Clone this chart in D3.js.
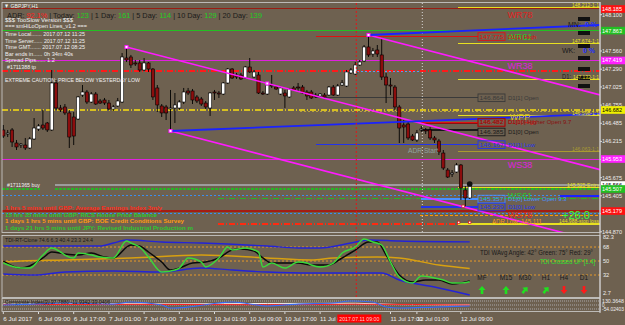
<!DOCTYPE html>
<html><head><meta charset="utf-8">
<script src="https://cdn.jsdelivr.net/npm/d3@7/dist/d3.min.js"></script>
<style>
html,body{margin:0;padding:0;background:#6e6150;overflow:hidden}
svg{display:block}
text{font-family:"Liberation Sans",Arial,sans-serif}
</style></head><body>
<svg id="chart" width="625" height="325"></svg>
<script>
// ================= DATA =================
const opens = [146.385,146.325,146.385,146.191,146.161,146.161,146.117,146.251,146.399,146.459,
146.489,146.385,147.084,146.712,146.727,146.638,146.578,146.548,146.905,146.950,
146.801,146.920,146.816,146.831,146.786,146.697,146.742,146.801,147.456,147.471,
147.382,147.382,147.277,147.382,147.292,147.010,146.742,146.727,146.697,146.712,
146.712,146.801,146.965,146.965,146.876,146.846,146.786,146.712,146.950,146.935,
146.920,147.084,147.292,147.203,147.203,147.158,147.322,147.173,147.203,146.935,
146.920,147.054,147.024,146.920,146.935,146.876,147.010,147.024,147.024,146.950,
146.950,146.905,146.891,146.905,146.905,147.024,146.905,147.054,147.039,147.233,
147.218,147.352,147.411,147.620,147.515,147.575,147.501,147.173,147.054,147.024,
146.727,146.459,146.474,146.295,146.236,146.385,146.385,146.385,146.266,146.221,
146.042,145.789,145.730,145.760,145.864,145.492,145.373];
const highs = [146.459,146.385,146.414,146.236,146.191,146.266,146.280,146.563,146.474,146.682,
146.504,147.277,147.129,146.757,146.771,146.682,146.653,146.891,147.054,146.980,
146.950,146.950,146.846,146.861,146.831,146.757,146.861,147.530,147.620,147.501,
147.426,147.426,147.456,147.396,147.307,147.054,146.771,146.757,146.980,146.935,
146.831,147.010,147.010,146.995,146.905,146.876,146.816,146.950,146.980,146.965,
147.099,147.307,147.307,147.233,147.233,147.337,147.456,147.277,147.248,146.965,
147.069,147.203,147.054,147.024,146.980,147.010,147.039,147.084,147.054,146.980,
146.980,146.935,146.935,146.935,147.039,147.054,147.069,147.129,147.277,147.307,
147.396,147.426,147.649,147.798,147.605,147.649,147.754,147.233,147.158,147.054,
146.757,146.533,146.504,146.325,146.385,146.444,146.414,146.429,146.295,146.251,
146.087,145.819,145.789,145.894,145.879,145.551,145.596];
const lows = [146.266,146.280,146.132,146.087,146.117,146.087,146.102,146.236,146.370,146.385,
146.355,146.370,146.682,146.653,146.608,146.117,146.161,146.533,146.876,146.771,
146.786,146.757,146.771,146.757,146.682,146.667,146.727,146.786,147.396,147.307,
147.337,147.248,147.262,147.248,146.831,146.653,146.578,146.533,146.370,146.489,
146.682,146.771,146.905,146.771,146.786,146.742,146.697,146.593,146.831,146.861,
146.905,147.069,147.144,147.144,147.129,147.144,147.233,147.158,146.920,146.905,
146.905,147.010,146.980,146.905,146.712,146.861,146.965,146.950,146.920,146.831,
146.846,146.861,146.861,146.846,146.891,146.891,146.891,147.039,147.024,147.218,
147.203,147.337,147.396,147.471,147.471,147.471,147.129,146.786,146.905,146.682,
146.191,146.191,146.236,146.221,146.206,146.355,146.325,146.236,146.191,146.013,
145.789,145.670,145.685,145.745,145.343,145.239,145.358];
const closes = [146.295,146.340,146.206,146.132,146.176,146.117,146.251,146.414,146.444,146.414,
146.385,147.084,146.712,146.682,146.638,146.280,146.295,146.876,146.950,146.801,
146.920,146.771,146.786,146.786,146.697,146.727,146.816,147.471,147.426,147.352,
147.367,147.277,147.382,147.292,146.876,146.757,146.638,146.638,146.712,146.757,
146.801,146.950,146.935,146.831,146.816,146.771,146.727,146.935,146.935,146.920,
147.084,147.292,147.158,147.173,147.144,147.322,147.248,147.248,146.935,146.920,
147.054,147.039,146.995,147.010,146.891,146.995,146.980,147.010,146.935,146.891,
146.861,146.876,146.920,146.876,147.024,146.905,147.039,147.084,147.248,147.277,
147.352,147.396,147.620,147.501,147.560,147.515,147.173,147.054,147.039,146.727,
146.414,146.429,146.266,146.236,146.340,146.399,146.370,146.266,146.236,146.057,
145.819,145.685,145.745,145.864,145.522,145.373,145.551];

const priceTicks = [148.100,147.830,147.560,147.290,147.025,146.755,146.485,146.215,145.945,145.675,145.405,145.140,144.870];
const timeLabels = ["6 Jul 2017","6 Jul 09:00","6 Jul 17:00","7 Jul 01:00","7 Jul 09:00","7 Jul 17:00","10 Jul 01:00","10 Jul 09:00","10 Jul 17:00","11 Jul 01:00","11 Jul 17:00","12 Jul 01:00","12 Jul 09:00"];
const timeLabelBars = [0,8,16,24,32,40,48,56,64,72,88,94,104];

// TDI
const tdiGreenBars = [0,4,6,9,11,13,14,16,17,20,22,25,28,29,31,33,36,39,40,42,45,46,49,51,52,55,58,59,61,64,67,69,70,72,75,77,80,82,84,86,88,90,93,95,98,100,102,104,106];
const tdiGreen = [47.4,41.0,41.0,57.7,66.7,61.6,57.7,53.9,60.3,57.7,55.1,53.9,75.7,73.1,68.0,55.1,35.9,38.4,41.0,53.9,48.7,42.3,53.9,68.0,64.1,66.7,61.6,42.3,47.4,41.0,48.7,47.4,44.9,42.3,47.4,60.3,68.0,78.3,74.4,70.6,48.7,29.4,21.7,30.7,28.2,25.6,21.7,21.7,23.3];
const tdiSignalBars = [0,4,6,9,11,14,17,20,23,25,29,31,33,36,38,40,43,46,49,52,54,57,59,61,64,67,70,74,77,80,83,85,87,90,93,96,99,102,104,106];
const tdiSignal = [50,41.0,43.6,53.9,61.6,59.0,57.7,60.3,55.1,53.9,70.6,69.3,61.6,48.7,38.4,41.0,47.4,48.7,53.9,64.1,65.4,62.9,53.9,47.4,47.4,47.4,44.9,44.9,53.9,64.1,74.4,74.4,57.7,32.0,23.0,25.6,25.6,20.4,21.7,24.4];
const tdiUpperBars = [0,22,25,28,36,45,51,60,67,72,79,83,90,106];
const tdiUpper = [69.3,69.3,73.1,77.0,74.4,73.1,71.8,69.3,66.7,66.7,73.1,77.0,75.7,74.6];
const tdiLowerBars = [0,7,14,25,36,45,52,60,70,86,90,98,106];
const tdiLower = [33.3,32.0,35.9,37.2,35.9,41.0,38.4,35.9,34.6,34.6,25.6,16.6,6.3];
const tdiMidBars = [0,4,14,29,45,60,70,75,85,90,99,106];
const tdiMid = [48.7,50,51.3,53.9,57.7,53.9,51.3,53.9,55.1,53.9,44.9,40.4];
const tdiLevels = [68,50,32];
const tdiAxisLabels = [82.3,68,50,32,2.7];

// Composite index
const compBars = [0,7,14,25,29,36,38,42,49,52,60,67,75,79,84,87,90,98,106];
const compBlue = [38,53,69,53,84,38,-8,7,69,84,23,53,69,100,84,7,-8,7,23];
const compWhiteBars = [0,20,40,60,80,90,106];
const compWhite = [55,60,55,62,65,45,40];
const compRedBars = [0,30,60,80,106];
const compRed = [45,48,42,50,38];

// Horizontal levels (prices)
const fullLevels = [148.185,147.863,147.419,147.262,146.682,145.953,145.566,145.507,145.417,145.179,145.135];
const d1PrevLevels = [147.775,146.864,146.167];
const d1PrevLabels = ["D1[1] High","D1[1] Open","D1[1] Low"];
const d1CurLevels = [146.497,146.482,146.385,145.357,145.239];
const d1CurLabels = ["D1[0] High","D1[10] Higher Open 9.7","D1[0] Open","D1[0] Lower Open 9.3","D1[0] Low"];
const rrLevels = [148.212,147.674,147.132,146.598,146.063,145.525,144.988];
const rrLabels = ["148.212-1:1","147.674-1:1","147.132-1:1","146.598-1:1","146.063-1:1","145.525-Entry","144.988-stop loss"];
const pivotNames = ["WR78","WR61","WR38","WPP","WS38","WS61","WS78"];
const pivotPrices = [148.09,147.765,147.33,146.58,145.86,145.41,145.115];
const adrLow = 145.111;
const tpLevel = 145.365;
const slLevel = 144.986;
// trend lines: anchor points [bar, price]
const trendMagUpper = [[28,147.620],[60,147.077]];
const trendMagNew = [[83,147.798],[100,147.510]];
const trendMagLower = [[38,146.370],[60,145.997]];
const trendBlueUpper = [[83,147.798],[135.6,147.947]];
const trendBlueLower = [[38,146.370],[135.6,146.623]];
const axisBoxes = [["148.185",148.185],["147.863",147.863],["147.419",147.419],["146.682",146.682],["145.953",145.953],["145.566",145.566],["145.507",145.507],["145.179",145.179]];

// ================= DRAW =================
const svg = d3.select("#chart");
const BG = "#6e6150";
const xB = d3.scaleLinear().domain([0,106]).range([3.3,469.7]);
const yP = d3.scaleLinear().domain([144.870,148.100]).range([231.8,14.7]);
const yT = d3.scaleLinear().domain([2.7,82.3]).range([297.8,235.9]);
const yC = d3.scaleLinear().domain([-54.02,130.36]).range([311,299]);
const XR = 600, XL = 2;
const barAtPx = px => xB.invert(px);

svg.append("rect").attr("width",625).attr("height",325).attr("fill",BG);
const defs = svg.append("defs");
defs.append("clipPath").attr("id","cm").append("rect").attr("x",XL).attr("y",3).attr("width",XR-XL).attr("height",229.5);
defs.append("clipPath").attr("id","ct").append("rect").attr("x",XL).attr("y",235.5).attr("width",XR-XL).attr("height",62);
defs.append("clipPath").attr("id","cc").append("rect").attr("x",XL).attr("y",298.5).attr("width",XR-XL).attr("height",13);

const main = svg.append("g").attr("clip-path","url(#cm)");
const tdiG = svg.append("g").attr("clip-path","url(#ct)");
const compG = svg.append("g").attr("clip-path","url(#cc)");

function hline(g, price, b0, b1, color, dash, w){
  g.append("line").attr("x1",xB(b0)).attr("x2",xB(b1)).attr("y1",yP(price)).attr("y2",yP(price))
   .attr("stroke",color).attr("stroke-width",w||1).attr("stroke-dasharray",dash||null).attr("shape-rendering","crispEdges");
}
const bL = barAtPx(XL), bR = barAtPx(XR);
const DD = "6,2,1,2";
main.append("line").attr("x1",xB(95)+1).attr("x2",xB(95)+1).attr("y1",3).attr("y2",232).attr("stroke","#d8d8d8").attr("stroke-dasharray","1,2");
const fullStyles = [["#9a1d12",null,1],["#22c022",null,1],["#e020e0",null,1],["#ff1a1a",DD,1.6],["#d8c020",DD,1.3],["#e020e0",null,1],["#9c9c9c",null,1.3],["#28b428","3,1",1.6],["#3a8ef0","2,2",1],["#a41c12",null,1.2],["#3a8ef0","2,2",1]];
fullLevels.forEach((p,i)=>{
  const s = fullStyles[i];
  if(i===6){ hline(main,p,barAtPx(55),bR,s[0],s[1],s[2]); }
  else if(i===7){ hline(main,p,bL,barAtPx(40),s[0],s[1],s[2]); hline(main,p,barAtPx(55),bR,s[0],s[1],s[2]); }
  else hline(main,p,bL,bR,s[0],s[1],s[2]);
});
hline(main,147.262,barAtPx(345),barAtPx(420),"#5aa0f0","2,2",1);
hline(main,tpLevel,barAtPx(218),bR,"#28b428",DD,1.2);
hline(main,slLevel,barAtPx(218),bR,"#ff2a10",DD,1.2);
hline(main,adrLow,barAtPx(420),bR,"#ff9900","3,2",1);
hline(main,146.655,barAtPx(300),bR,"#c8b040","2,2",0.8);
const d1PrevColors = ["#e01010","#3a3a3a","#2233ee"];
d1PrevLevels.forEach((p,i)=>hline(main,p,71,barAtPx(478),d1PrevColors[i],null,1.2));
const d1CurColors = ["#e01010","#8a1010","#1a1a1a","#4a90ff","#2233ee"];
d1CurLevels.forEach((p,i)=>hline(main,p,95,barAtPx(478),d1CurColors[i],null,1.2));
const rrColors = ["#e8e020","#e8e020","#e8e020","#e8e020","#a89a30","#e8e020","#e8e020"];
rrLevels.forEach((p,i)=>hline(main,p,barAtPx(458),bR,rrColors[i],null,1.3));

// candles
const cg = main.append("g");
opens.forEach((o,i)=>{
  const x = xB(i), c = closes[i];
  cg.append("line").attr("x1",x).attr("x2",x).attr("y1",yP(highs[i])).attr("y2",yP(lows[i])).attr("stroke","#000").attr("stroke-width",0.9);
  const top = yP(Math.max(o,c)), bot = yP(Math.min(o,c));
  cg.append("rect").attr("x",x-1.6).attr("width",3.2).attr("y",top).attr("height",Math.max(1,bot-top))
    .attr("fill", c>=o ? "#ffffff" : "#8c0d0d").attr("stroke","#000").attr("stroke-width",0.6);
});

function trend(g, pts, color, w, extend){
  const [a,b] = pts; const slope = (b[1]-a[1])/(b[0]-a[0]);
  const endBar = extend ? bR : b[0];
  const endP = a[1] + slope*(endBar-a[0]);
  g.append("line").attr("x1",xB(a[0])).attr("y1",yP(a[1])).attr("x2",xB(endBar)).attr("y2",yP(endP))
   .attr("stroke",color).attr("stroke-width",w);
}
trend(main,trendMagUpper,"#ff1aff",1.6,true);
trend(main,trendMagNew,"#ff1aff",1.6,true);
trend(main,trendMagLower,"#ff1aff",1.6,true);
trend(main,trendBlueUpper,"#1a22ff",1.8,false);
trend(main,trendBlueLower,"#1a22ff",1.8,false);
hline(main,145.40,barAtPx(560),bR,"#1a22ff",null,1.6);
[[28,147.620],[38,146.370],[60,147.077],[83,147.798]].forEach(d=>{
  main.append("rect").attr("x",xB(d[0])-1.5).attr("y",yP(d[1])-1.5).attr("width",3).attr("height",3).attr("fill","#fff").attr("stroke","#ff1aff").attr("stroke-width",1);
});
svg.append("line").attr("x1",xB(80)+1).attr("x2",xB(80)+1).attr("y1",3).attr("y2",297).attr("stroke","#e01818").attr("stroke-dasharray","2,2");
[[103.5,145.010],[106,145.010],[104.5,145.250]].forEach(d=>{
  main.append("rect").attr("x",xB(d[0])-1.2).attr("y",yP(d[1])-1.2).attr("width",2.4).attr("height",2.4).attr("fill","#fff").attr("stroke","#e01010").attr("stroke-width",0.7);
});
main.append("circle").attr("cx",xB(106)).attr("cy",yP(145.596)+1).attr("r",2.8).attr("fill","#111");
[17,31,44,56,67,76,84].forEach(y=>main.append("rect").attr("x",578).attr("y",y).attr("width",12).attr("height",4).attr("fill","#111"));

// ---------- texts ----------
function txt(x,y,s,color,size,len,anchor,weight){
  const t = svg.append("text").attr("x",x).attr("y",y).text(s).attr("fill",color).attr("font-size",size)
    .attr("text-anchor",anchor||"start").attr("font-weight",weight||"normal");
  if(len) t.attr("textLength",len).attr("lengthAdjust","spacingAndGlyphs");
  return t;
}
txt(4,8,"▼ GBPJPY,H1","#f2f2f2",6,34);
const adr = svg.append("text").attr("x",7).attr("y",18).attr("font-size",8).attr("textLength",255).attr("lengthAdjust","spacingAndGlyphs");
[["ADR: ","#1a1a1a"],["92.1%","#ff2020"],[" | Today: ","#1a1a1a"],["123","#20d020"],[" | 1 Day: ","#1a1a1a"],["161","#20d020"],[" | 5 Day: ","#1a1a1a"],["114","#20d020"],[" | 10 Day: ","#1a1a1a"],["129","#20d020"],[" |   20 Day: ","#1a1a1a"],["139","#20d020"]]
 .forEach(d=>adr.append("tspan").text(d[0]).attr("fill",d[1]));
txt(5,22,"$$$ TooSlow Version $$$","#f0f0f0",5.6,68);
txt(5,28,"=== smHiLoOpen Lines_v1.2 ===","#f0f0f0",5.6,82);
txt(5,36,"Time Local....... 2017.07.12 11:25","#f0f0f0",5.6,80);
txt(5,42.5,"Time Server...... 2017.07.12 11:25","#f0f0f0",5.6,80);
txt(5,49,"Time GMT....... 2017.07.12 08:25","#f0f0f0",5.6,80);
txt(5,55.5,"Bar ends in...... 0h 34m 40s","#f0f0f0",5.6,68);
txt(5,62,"Spread Pips...... 1.2","#f0f0f0",5.6,50);
txt(7,69,"#1711388 tp","#f0f0f0",5.6,29);
txt(5,82,"EXTREME CAUTION: PRICE BELOW YESTERDAY LOW","#f0f0f0",5.8,135);
txt(7,187,"#1711365 buy","#f0f0f0",5.6,33);
txt(5,210,"1 hrs 5 mins until GBP: Average Earnings Index 3m/y","#ff2a1a",6.2,157,null,"bold");
txt(5,216.5,"15 hrs 35 mins until GBP: RICS House Price Balance","#2ec82e",6.2,152,null,"bold");
txt(5,223,"1 days 1 hrs 5 mins until GBP: BOE Credit Conditions Survey","#ff9a10",6.2,179,null,"bold");
txt(5,230,"1 days 21 hrs 5 mins until JPY: Revised Industrial Production m","#2ec82e",6.2,188,null,"bold");

const pivColors = ["#e02020","#28c828","#e020e0","#d8c020","#e020e0","#28c828","#e02020"];
pivotNames.forEach((n,i)=>txt(520,yP(pivotPrices[i])+3,n,pivColors[i],9,null,"middle"));
function boxLabel(price,label,color,dy){
  const y = yP(price)+(dy||0);
  svg.append("rect").attr("x",478).attr("y",y-3.8).attr("width",27).attr("height",7.6).attr("fill","none").attr("stroke",color).attr("stroke-width",0.9);
  txt(491.5,y+2,price.toFixed(3),color,6,24,"middle");
  txt(508,y+2,label,color,6,null,"start");
}
d1PrevLevels.forEach((p,i)=>boxLabel(p,d1PrevLabels[i],d1PrevColors[i]));
d1CurLevels.forEach((p,i)=>boxLabel(p,d1CurLabels[i],d1CurColors[i], i===1? -1 : (i===2?2:0)));
const rrLens = [27,27,26,27,27,32,40];
rrLevels.forEach((p,i)=>txt(599,yP(p)-0.5,rrLabels[i],rrColors[i],5.4,rrLens[i],"end"));
txt(562,yP(147.132)-0.5,"D1:","#1a1a1a",6.5,9,"start");
txt(568,27,"MN:","#1a1a1a",7,null,"start");
txt(585,27,"0 %","#2030ff",7,null,"start","bold");
txt(562,53,"WK:","#1a1a1a",7,null,"start");
txt(583,53,"0 %","#2030ff",7,null,"start","bold");
txt(408,yP(146.075)+2,"ADR Start","#8ea4a0",6.5,30);
txt(492,yP(adrLow)+8,"ADR Low: 145.111","#ff9a10",6.5,50);
txt(562,yP(145.12)+4,"+26.0","#3cff3c",11);

// ---------- right price axis ----------
svg.append("line").attr("x1",XR).attr("x2",XR).attr("y1",2).attr("y2",313).attr("stroke","#d8d8d8");
const boxYs = axisBoxes.map(d=>yP(d[1]));
priceTicks.forEach(p=>{
  const y = yP(p);
  svg.append("line").attr("x1",XR).attr("x2",XR+2).attr("y1",y).attr("y2",y).attr("stroke","#ddd");
  if(boxYs.some(b=>Math.abs(b-y)<3)) return; // hidden under a price box
  txt(602,y+2,p.toFixed(3),"#eeeeee",5.6,20);
});
const boxFill = ["#ff1010","#22c022","#ff20ff","#f0f000","#ff20ff","#ffffff","#22c022","#ff1010"];
const boxText = ["#ffffff","#ffffff","#ffffff","#000000","#ffffff","#000000","#ffffff","#ffffff"];
axisBoxes.forEach((d,i)=>{
  const y = yP(d[1]);
  svg.append("rect").attr("x",601).attr("y",y-3.8).attr("width",24).attr("height",7.6).attr("fill",boxFill[i]);
  txt(602,y+2,d[0],boxText[i],5.6,20);
});

// ---------- window frames ----------
svg.append("rect").attr("x",XL).attr("y",2.5).attr("width",XR-XL).attr("height",230).attr("fill","none").attr("stroke","#d0d0d0").attr("stroke-width",0.8);
svg.append("rect").attr("x",XL).attr("y",235.5).attr("width",XR-XL).attr("height",62).attr("fill","none").attr("stroke","#d0d0d0").attr("stroke-width",0.8);
svg.append("rect").attr("x",XL).attr("y",298.5).attr("width",XR-XL).attr("height",13).attr("fill","none").attr("stroke","#d0d0d0").attr("stroke-width",0.8);

// ---------- TDI ----------
tdiLevels.forEach(v=>tdiG.append("line").attr("x1",XL).attr("x2",XR).attr("y1",yT(v)).attr("y2",yT(v)).attr("stroke","#e89a28").attr("stroke-dasharray","2,2"));
function series(g, bars, vals, ys, color, w){
  const ln = d3.line().x((d,i)=>xB(bars[i])).y(d=>ys(d)).curve(d3.curveMonotoneX);
  g.append("path").attr("d",ln(vals)).attr("fill","none").attr("stroke",color).attr("stroke-width",w).attr("stroke-linejoin","round");
}
series(tdiG,tdiUpperBars,tdiUpper,yT,"#2323d8",1.4);
series(tdiG,tdiLowerBars,tdiLower,yT,"#2323d8",1.4);
series(tdiG,tdiMidBars,tdiMid,yT,"#d8a010",1.4);
series(tdiG,tdiSignalBars,tdiSignal,yT,"#0a0a0a",1.5);
series(tdiG,tdiGreenBars,tdiGreen,yT,"#3ad83a",1.5);
txt(5,242,"TDI-RT-Clone 74.6 6.3 40.4 23.3 24.4","#1a1a1a",5.6,88);
txt(480,255,"TDI WAvg Angle: 42° Green: 75° Red: 29°","#1a1a1a",6.3,113);
txt(540,264,"TDI Crossed UP [1.4]","#2ee02e",6.3,55);
const tfNames = ["MF","M15","M30","H1","H4","D1"];
const tfX = [482,506,525,546,564,584];
const tfUp = [true,true,true,true,false,false];
tfNames.forEach((n,i)=>{
  txt(tfX[i],280,n,"#1a1a1a",6.5,null,"middle");
  const c = tfUp[i] ? "#20e020" : "#ff1a1a";
  const g = svg.append("g").attr("transform",`translate(${tfX[i]},290)` + (i===2||i===3 ? " rotate(40)" : "") + (tfUp[i]?"":" rotate(180)"));
  g.append("path").attr("d","M0,-4 L3.5,0 L1.3,0 L1.3,4 L-1.3,4 L-1.3,0 L-3.5,0 Z").attr("fill",c);
});
tdiAxisLabels.forEach(v=>{
  const y = v===82.3 ? 239 : (v===2.7 ? 295 : yT(v)+2);
  txt(603,y,String(v),"#eeeeee",5.6);
});

// ---------- Composite ----------
[301,305,309].forEach(y=>compG.append("line").attr("x1",XL).attr("x2",XR).attr("y1",y).attr("y2",y).attr("stroke","#a8a8a8").attr("stroke-dasharray","1,1"));
series(compG,compWhiteBars,compWhite,yC,"#f0f0f0",1);
series(compG,compRedBars,compRed,yC,"#ff2020",1);
series(compG,compBars,compBlue,yC,"#3a6cf0",1.2);
txt(5,304,"Composite Index(3) 37.7880 -11.9342 33.0406","#1a1a1a",5.2,105);
txt(602,302.5,"130.3648","#eeeeee",4.6,22);
txt(602,306.5,"0","#eeeeee",4.6);
txt(602,311,"-54.02403","#eeeeee",4.6,22);

// ---------- time axis ----------
timeLabels.forEach((l,i)=>{
  const x = xB(timeLabelBars[i]);
  svg.append("line").attr("x1",x).attr("x2",x).attr("y1",312).attr("y2",314).attr("stroke","#ddd");
  txt(x,321,l,"#eeeeee",5.8,l.length>10?32:29);
});
svg.append("rect").attr("x",xB(80)-18).attr("y",314.5).attr("width",44).attr("height",8).attr("fill","#ff0000");
txt(xB(80)+4,321,"2017.07.11 09:00","#ffd0d0",5.8,40,"middle");
</script>
</body></html>
